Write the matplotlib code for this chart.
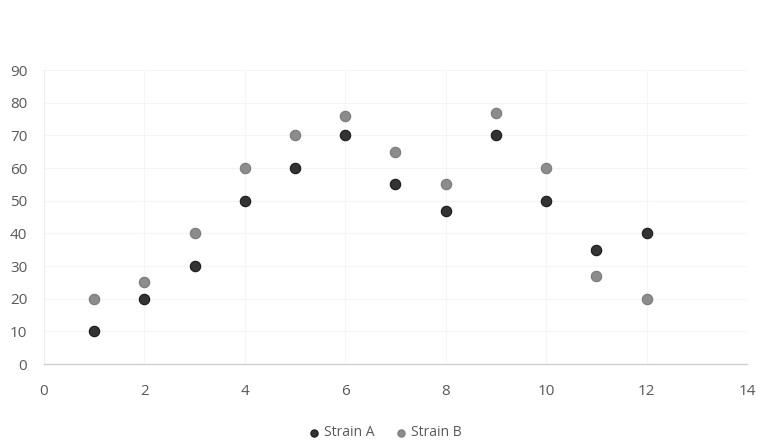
import matplotlib
matplotlib.use("Agg")
import matplotlib.pyplot as plt

x = [1, 2, 3, 4, 5, 6, 7, 8, 9, 10, 11, 12]
strain_a = [10, 20, 30, 50, 60, 70, 55, 47, 70, 50, 35, 40]
strain_b = [20, 25, 40, 60, 70, 76, 65, 55, 77, 60, 27, 20]
x_ticks = [0, 2, 4, 6, 8, 10, 12, 14]
y_ticks = [0, 10, 20, 30, 40, 50, 60, 70, 80, 90]

plt.rcParams['font.family'] = ['Open Sans', 'DejaVu Sans']

fig = plt.figure(figsize=(7.62, 4.44), dpi=100)
ax = fig.add_axes([0.0577, 0.180, 0.9226, 0.662])

ax.scatter(x, strain_a, s=56, color='#333333', edgecolors='#1a1a1a',
           linewidths=0.8, label='Strain A', zorder=3)
ax.scatter(x, strain_b, s=56, color='#8c8c8c', edgecolors='#7a7a7a',
           linewidths=0.8, label='Strain B', zorder=3)

ax.set_xlim(0, 14)
ax.set_ylim(0, 90)
ax.set_xticks(x_ticks)
ax.set_yticks(y_ticks)
ax.grid(True, color='#f5f5f5', linewidth=0.8, zorder=0)
ax.set_axisbelow(True)

for side in ['top', 'right']:
    ax.spines[side].set_visible(False)
ax.spines['left'].set_color('#eeeeee')
ax.spines['bottom'].set_color('#d0d0d0')
ax.spines['bottom'].set_linewidth(1.0)
ax.tick_params(length=0, labelsize=11, labelcolor='#595959')
ax.tick_params(axis='x', pad=14)
ax.tick_params(axis='y', pad=12)

leg = fig.legend(loc='lower center', bbox_to_anchor=(0.5, -0.02), ncol=2,
                 frameon=False, fontsize=10, handletextpad=-0.3,
                 columnspacing=0.9, markerscale=0.7)
for t in leg.get_texts():
    t.set_color('#595959')

fig.savefig('out.png', dpi=100)
